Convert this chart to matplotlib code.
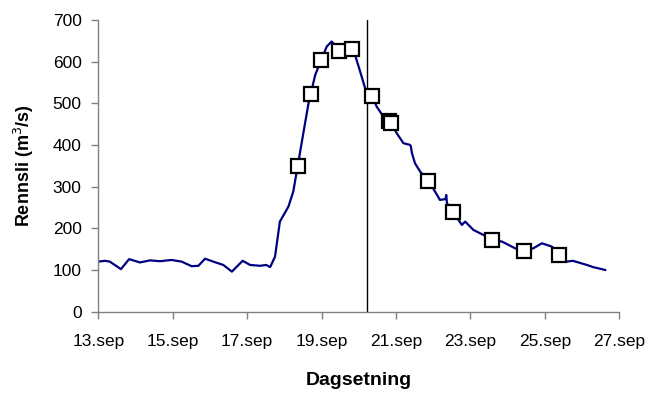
import matplotlib
matplotlib.use("Agg")
import matplotlib.pyplot as plt

# Continuous discharge series (day of September, m3/s)
line_days = [13.0, 13.18, 13.31, 13.61, 13.83, 14.12, 14.39, 14.66, 14.97, 15.24, 15.51, 15.69,
             15.87, 16.09, 16.36, 16.59, 16.88, 17.08, 17.35, 17.51, 17.62, 17.75, 17.88, 18.11,
             18.24, 18.36, 18.51, 18.65, 18.83, 18.99, 19.14, 19.27, 19.36, 19.55, 19.82, 19.92,
             20.03, 20.17, 20.35, 20.48, 20.66, 20.87, 21.02, 21.2, 21.38, 21.4, 21.43, 21.51,
             21.65, 21.87, 22.05, 22.18, 22.33, 22.35, 22.37, 22.54, 22.77, 22.86, 23.08, 23.35,
             23.58, 23.85, 24.2, 24.43, 24.69, 24.92, 25.19, 25.38, 25.59, 25.75, 26.13, 26.29,
             26.62]
line_flow = [120, 122, 120, 102, 126, 118, 123, 121, 124, 120, 109, 110,
             127, 120, 112, 96, 122, 112, 110, 112, 107, 132, 216, 252,
             288, 350, 428, 500, 568, 604, 636, 648, 640, 612, 630, 610,
             578, 536, 518, 492, 468, 452, 428, 404, 400, 396, 380, 356,
             336, 314, 288, 268, 270, 280, 260, 238, 208, 216, 196, 184,
             172, 168, 152, 146, 152, 164, 156, 136, 120, 122, 112, 107,
             100]

# Measured points
meas_days = [18.36, 18.72, 18.99, 19.46, 19.82, 20.35, 20.82, 20.87, 21.87, 22.54, 23.58, 24.43, 25.38]
meas_flow = [350, 522, 604, 626, 630, 518, 458, 452, 314, 238, 172, 146, 136]

vline_day = 20.21

xtick_days = [13, 15, 17, 19, 21, 23, 25, 27]
xtick_labels = ["13.sep", "15.sep", "17.sep", "19.sep", "21.sep", "23.sep", "25.sep", "27.sep"]
yticks = [0, 100, 200, 300, 400, 500, 600, 700]

plt.rcParams['font.family'] = ['Liberation Sans', 'DejaVu Sans']

fig = plt.figure(figsize=(6.55, 3.97), dpi=100)
ax = fig.add_axes([0.150, 0.215, 0.7955, 0.735])

ax.plot(line_days, line_flow, color='#000080', lw=1.6, zorder=2)
ax.plot(meas_days, meas_flow, linestyle='none', marker='s', markersize=9.5,
        markerfacecolor='white', markeredgecolor='black', markeredgewidth=1.6, zorder=3)
ax.axvline(vline_day, color='black', lw=1.0, zorder=1)

ax.set_xlim(13, 27)
ax.set_ylim(0, 700)
ax.set_xticks(xtick_days)
ax.set_xticklabels(xtick_labels)
ax.set_yticks(yticks)

for s in ['top', 'right']:
    ax.spines[s].set_visible(False)
for s in ['left', 'bottom']:
    ax.spines[s].set_color('#808080')
    ax.spines[s].set_linewidth(1.0)
ax.tick_params(axis='both', colors='#808080', labelcolor='black', labelsize=12.5,
               length=5, width=1.0, direction='out')
ax.tick_params(axis='x', pad=11)
ax.tick_params(axis='y', pad=7)

ax.set_xlabel('Dagsetning', fontsize=14, fontweight='bold', labelpad=17)
ax.set_ylabel('Rennsli (m$^{3}$/s)', fontsize=13, fontweight='bold', labelpad=12)

fig.savefig('out.png', dpi=100)
